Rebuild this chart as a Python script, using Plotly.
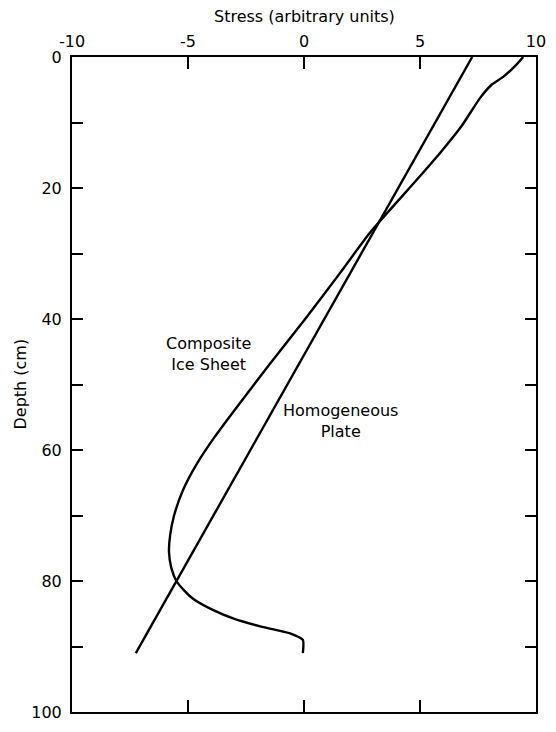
import plotly.graph_objects as go

# Homogeneous plate (linear)
homog_stress = [7.25, -7.25]
homog_depth = [0, 91]

# Composite ice sheet
comp_stress = [9.45, 9.2, 8.6, 8.1, 7.6, 6.8, 5.9, 4.9, 2.85, 1.55, 0.05, -1.5, -2.8,
               -3.85, -4.6, -5.2, -5.6, -5.77, -5.82, -5.72, -5.5, -5.15,
               -4.75, -4.0, -3.0, -1.8, -0.6, -0.05, -0.05]
comp_depth = [0, 1, 3, 4.2, 6.2, 10.5, 14.5, 18.6, 26.8, 33, 40, 47, 53,
              58, 62, 66, 70, 73, 75.5, 78, 80, 81.5,
              82.8, 84.3, 85.8, 87, 88, 89, 91]

x_ticks = [-10, -5, 0, 5, 10]
y_ticks = [0, 10, 20, 30, 40, 50, 60, 70, 80, 90, 100]
y_labels = ["0", "", "20", "", "40", "", "60", "", "80", "", "100"]

FONT = "DejaVu Sans"

fig = go.Figure()
fig.add_trace(go.Scatter(x=homog_stress, y=homog_depth, mode="lines",
                         line=dict(color="black", width=2.4), showlegend=False))
fig.add_trace(go.Scatter(x=comp_stress, y=comp_depth, mode="lines",
                         line=dict(color="black", width=2.4, shape="spline", smoothing=0.6),
                         showlegend=False))

fig.update_layout(
    width=556, height=732,
    margin=dict(l=72, r=20, t=57, b=10),
    plot_bgcolor="white", paper_bgcolor="white",
    font=dict(family=FONT, size=16, color="black"),
    xaxis=dict(range=[-10, 10], side="top", tickvals=x_ticks,
               ticktext=[str(v) for v in x_ticks],
               ticks="inside", ticklen=12, tickwidth=2, tickcolor="black",
               showline=True, linecolor="black", linewidth=2, mirror="ticks",
               showgrid=False, zeroline=False, ticklabelstandoff=2,
               tickfont=dict(size=16, family=FONT)),
    yaxis=dict(range=[100, 0], tickvals=y_ticks, ticktext=y_labels,
               ticks="inside", ticklen=11, tickwidth=2, tickcolor="black",
               showline=True, linecolor="black", linewidth=2, mirror="ticks",
               showgrid=False, zeroline=False, ticklabelstandoff=5,
               tickfont=dict(size=16, family=FONT)),
)

fig.add_annotation(text="Stress (arbitrary units)", xref="paper", yref="paper",
                   x=0.5, y=1, yshift=41, showarrow=False,
                   font=dict(size=16, family=FONT), xanchor="center", yanchor="middle")
fig.add_annotation(text="Depth (cm)", xref="paper", yref="paper",
                   x=0, xshift=-52, y=0.5, showarrow=False, textangle=-90,
                   font=dict(size=16, family=FONT), xanchor="center", yanchor="middle")
fig.add_annotation(text="Composite<br>Ice Sheet", xref="x", yref="y",
                   x=-4.13, y=45.3, showarrow=False,
                   font=dict(size=16, family=FONT), align="center")
fig.add_annotation(text="Homogeneous<br>Plate", xref="x", yref="y",
                   x=1.57, y=55.5, showarrow=False,
                   font=dict(size=16, family=FONT), align="center")

fig.write_html("out.html")
